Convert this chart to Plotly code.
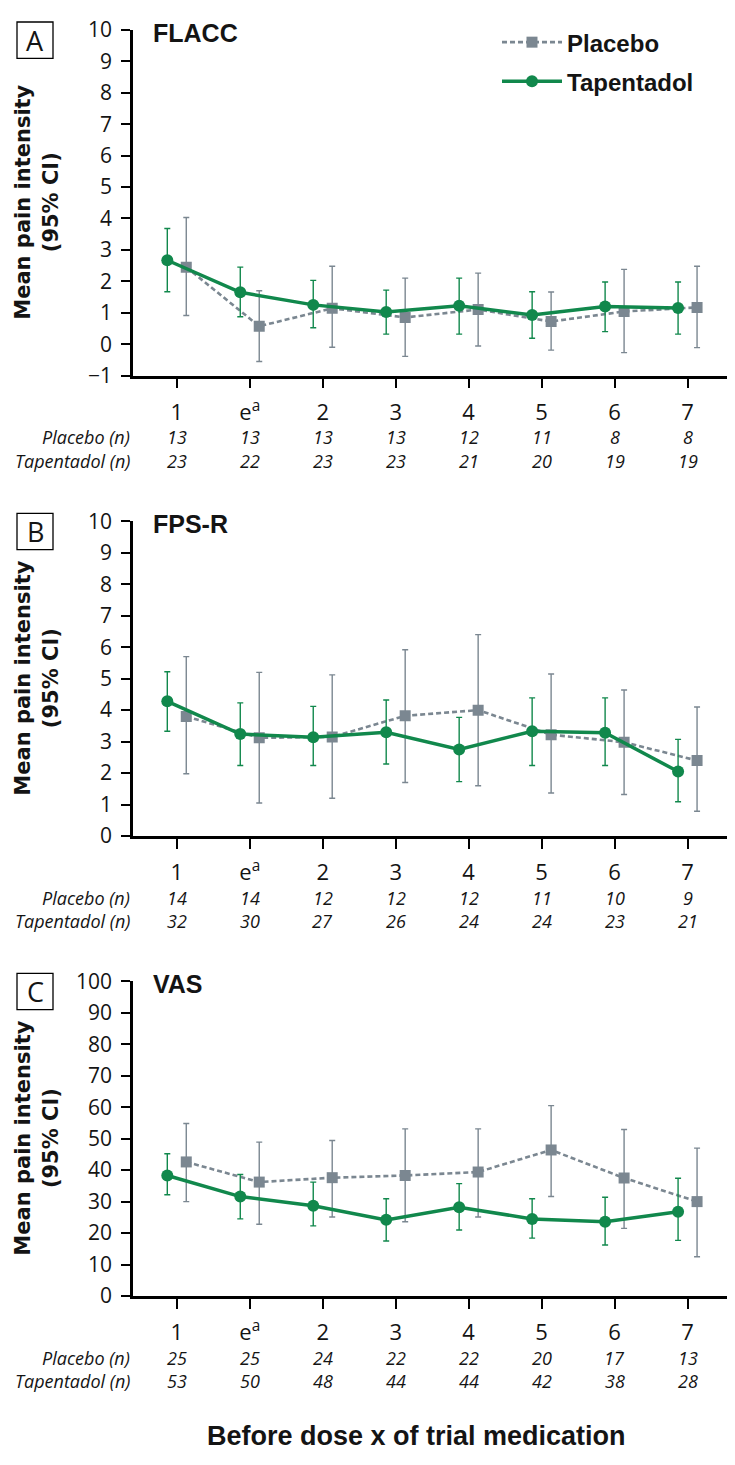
import plotly.graph_objects as go
from plotly.subplots import make_subplots

# page has an 8px body margin, so the figure is drawn 8px smaller and coordinates
# below are given in window pixels
W, H = 735, 1465
OFF = 8
FW, FH = W - OFF, H - OFF

doses = ["1", "e<sup>a</sup>", "2", "3", "4", "5", "6", "7"]

# Panel A - FLACC
flacc_tap_mean = [2.67, 1.65, 1.25, 1.02, 1.22, 0.93, 1.20, 1.15]
flacc_tap_lo = [1.67, 0.87, 0.52, 0.32, 0.32, 0.19, 0.40, 0.32]
flacc_tap_hi = [3.68, 2.45, 2.03, 1.72, 2.10, 1.67, 1.98, 1.98]
flacc_pla_mean = [2.45, 0.57, 1.14, 0.85, 1.10, 0.72, 1.04, 1.17]
flacc_pla_lo = [0.91, -0.55, -0.10, -0.39, -0.06, -0.19, -0.27, -0.11]
flacc_pla_hi = [4.03, 1.70, 2.48, 2.10, 2.26, 1.66, 2.38, 2.48]
flacc_n_pla = [13, 13, 13, 13, 12, 11, 8, 8]
flacc_n_tap = [23, 22, 23, 23, 21, 20, 19, 19]

# Panel B - FPS-R
fps_tap_mean = [4.28, 3.24, 3.14, 3.30, 2.75, 3.33, 3.28, 2.05]
fps_tap_lo = [3.33, 2.24, 2.24, 2.29, 1.73, 2.24, 2.24, 1.09]
fps_tap_hi = [5.22, 4.23, 4.12, 4.32, 3.77, 4.39, 4.39, 3.07]
fps_pla_mean = [3.80, 3.12, 3.15, 3.82, 4.00, 3.22, 2.98, 2.40]
fps_pla_lo = [1.98, 1.05, 1.20, 1.70, 1.60, 1.37, 1.32, 0.79]
fps_pla_hi = [5.70, 5.20, 5.12, 5.92, 6.40, 5.15, 4.64, 4.10]
fps_n_pla = [14, 14, 12, 12, 12, 11, 10, 9]
fps_n_tap = [32, 30, 27, 26, 24, 24, 23, 21]

# Panel C - VAS
vas_tap_mean = [38.3, 31.6, 28.7, 24.2, 28.2, 24.5, 23.6, 26.8]
vas_tap_lo = [32.2, 24.5, 22.3, 17.5, 21.0, 18.4, 16.2, 17.7]
vas_tap_hi = [45.2, 38.6, 36.2, 30.9, 35.7, 30.9, 31.4, 37.4]
vas_pla_mean = [42.6, 36.2, 37.6, 38.3, 39.4, 46.4, 37.5, 30.0]
vas_pla_lo = [30.0, 22.8, 25.1, 23.6, 25.1, 31.6, 21.5, 12.5]
vas_pla_hi = [54.8, 48.9, 49.4, 53.1, 53.1, 60.5, 52.9, 47.0]
vas_n_pla = [25, 25, 24, 22, 22, 20, 17, 13]
vas_n_tap = [53, 50, 48, 44, 44, 42, 38, 28]

GREEN = "#11884c"
GREY = "#7b8791"
TXT = "#141414"
NARROW = "Liberation Sans Narrow, Open Sans, sans-serif"
BOLD = "Liberation Sans, Arial, sans-serif"


def px_x(px):
    return (px - OFF) / FW


def px_y(px):
    return 1 - (px - OFF) / FH


panels = [
    dict(top=15, bottom=367.5, letter="A", title="FLACC", rng=[-1, 10], dtick=1,
         tap=(flacc_tap_mean, flacc_tap_lo, flacc_tap_hi),
         pla=(flacc_pla_mean, flacc_pla_lo, flacc_pla_hi),
         n_pla=flacc_n_pla, n_tap=flacc_n_tap),
    dict(top=516, bottom=837, letter="B", title="FPS-R", rng=[0, 10], dtick=1,
         tap=(fps_tap_mean, fps_tap_lo, fps_tap_hi),
         pla=(fps_pla_mean, fps_pla_lo, fps_pla_hi),
         n_pla=fps_n_pla, n_tap=fps_n_tap),
    dict(top=985, bottom=1306, letter="C", title="VAS", rng=[0, 100], dtick=10,
         tap=(vas_tap_mean, vas_tap_lo, vas_tap_hi),
         pla=(vas_pla_mean, vas_pla_lo, vas_pla_hi),
         n_pla=vas_n_pla, n_tap=vas_n_tap),
]

fig = make_subplots(rows=3, cols=1)
idx = list(range(len(doses)))
annotations = []
shapes = []


def note(text, x, y, size, family=NARROW, xref="paper", xanchor="center", **kw):
    annotations.append(dict(text=text, xref=xref, yref="paper", x=x, y=y,
                            xanchor=xanchor, yanchor="middle", showarrow=False,
                            font=dict(family=family, size=size, color=TXT), **kw))


for k, p in enumerate(panels, start=1):
    pm, pl, ph = p["pla"]
    tm, tl, th = p["tap"]
    fig.add_trace(go.Scatter(
        name="Placebo", x=[i + 0.13 for i in idx], y=pm, mode="lines+markers",
        line=dict(color=GREY, width=2.6, dash="5px,3px"),
        marker=dict(symbol="square", size=11, color=GREY),
        error_y=dict(type="data", symmetric=False,
                     array=[h - m for h, m in zip(ph, pm)],
                     arrayminus=[m - lo for m, lo in zip(pm, pl)],
                     color=GREY, thickness=1.4, width=3),
        legendgroup="pla", showlegend=(k == 1)), row=k, col=1)
    fig.add_trace(go.Scatter(
        name="Tapentadol", x=[i - 0.13 for i in idx], y=tm, mode="lines+markers",
        line=dict(color=GREEN, width=3.5),
        marker=dict(symbol="circle", size=12, color=GREEN),
        error_y=dict(type="data", symmetric=False,
                     array=[h - m for h, m in zip(th, tm)],
                     arrayminus=[m - lo for m, lo in zip(tm, tl)],
                     color=GREEN, thickness=1.4, width=3),
        legendgroup="tap", showlegend=(k == 1)), row=k, col=1)

    fig.update_yaxes(row=k, col=1, range=p["rng"], dtick=p["dtick"], tick0=p["rng"][0],
                     domain=[px_y(p["bottom"]), px_y(p["top"])],
                     showline=True, linecolor="black", linewidth=2.5,
                     ticks="outside", ticklen=9, tickwidth=2, tickcolor="black",
                     showgrid=False, zeroline=False, ticklabelstandoff=5,
                     tickfont=dict(family=NARROW, size=21, color=TXT))
    fig.update_xaxes(row=k, col=1, range=[-0.6, 7.65], domain=[px_x(133), 1],
                     tickvals=idx, ticktext=doses,
                     showline=True, linecolor="black", linewidth=2.5,
                     ticks="outside", ticklen=10, tickwidth=2, tickcolor="black",
                     showgrid=False, zeroline=False, ticklabelstandoff=5,
                     tickfont=dict(family=NARROW, size=22, color=TXT))

    xref = "x" if k == 1 else f"x{k}"
    top, yb = p["top"], p["bottom"]
    # panel letter in a box
    shapes.append(dict(type="rect", xref="paper", yref="paper",
                       x0=px_x(17), x1=px_x(53), y0=px_y(top + 29), y1=px_y(top - 8),
                       line=dict(color="black", width=1.3)))
    note(p["letter"], px_x(35), px_y(top + 10.5), 27)
    note(f"<b>{p['title']}</b>", px_x(151), px_y(top + 3), 25, family=BOLD, xanchor="left")
    note("<b>Mean pain intensity<br>(95% CI)</b>", px_x(37), px_y((top + yb) / 2), 21,
         family="DejaVu Sans", textangle=-90)
    # sample sizes under the axis
    note("<i>Placebo (n)</i>", px_x(132), px_y(yb + 63), 18, xanchor="right")
    note("<i>Tapentadol (n)</i>", px_x(132), px_y(yb + 87), 18, xanchor="right")
    for i in idx:
        note(f"<i>{p['n_pla'][i]}</i>", i, px_y(yb + 63), 18, xref=xref)
        note(f"<i>{p['n_tap'][i]}</i>", i, px_y(yb + 87), 18, xref=xref)

note("<b>Before dose x of trial medication</b>", px_x(416), px_y(1449), 27, family=BOLD)

fig.update_layout(
    width=FW, height=FH, margin=dict(l=0, r=0, t=0, b=0),
    plot_bgcolor="white", paper_bgcolor="white",
    annotations=annotations, shapes=shapes,
    legend=dict(x=px_x(497), y=px_y(5), xanchor="left", yanchor="top",
                traceorder="grouped", tracegroupgap=5, itemwidth=60,
                bgcolor="rgba(0,0,0,0)",
                font=dict(family=BOLD, size=24, color=TXT, weight="bold")),
)

fig.write_html("out.html")
